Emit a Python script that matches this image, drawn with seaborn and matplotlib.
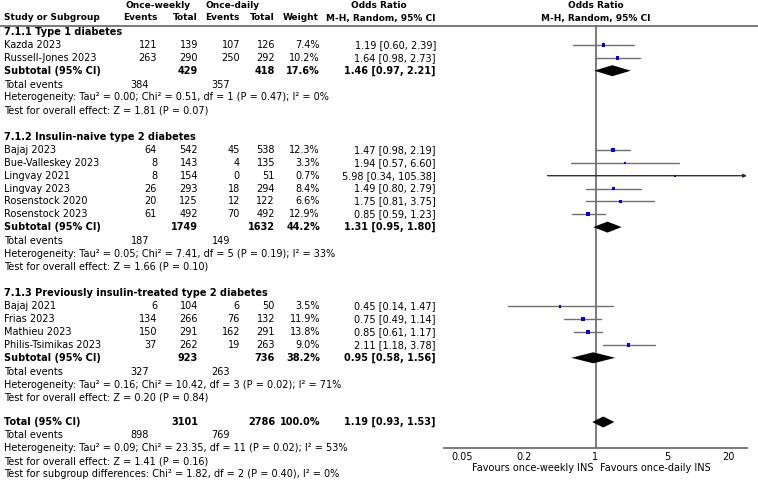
#Importing libraries
import numpy as np
import pandas as pd
import matplotlib.pyplot as plt
import seaborn as sns

#Study level data
study = ["Kazda 2023", "Russell-Jones 2023",
         "Bajaj 2023", "Bue-Valleskey 2023", "Lingvay 2021", "Lingvay 2023", "Rosenstock 2020", "Rosenstock 2023",
         "Bajaj 2021", "Frias 2023", "Mathieu 2023", "Philis-Tsimikas 2023"]
group = [0, 0, 1, 1, 1, 1, 1, 1, 2, 2, 2, 2]
weekly_events = [121, 263, 64, 8, 8, 26, 20, 61, 6, 134, 150, 37]
weekly_total = [139, 290, 542, 143, 154, 293, 125, 492, 104, 266, 291, 262]
daily_events = [107, 250, 45, 4, 0, 18, 12, 70, 6, 76, 162, 19]
daily_total = [126, 292, 538, 135, 51, 294, 122, 492, 50, 132, 291, 263]
weight = [7.4, 10.2, 12.3, 3.3, 0.7, 8.4, 6.6, 12.9, 3.5, 11.9, 13.8, 9.0]
or_est = [1.19, 1.64, 1.47, 1.94, 5.98, 1.49, 1.75, 0.85, 0.45, 0.75, 0.85, 2.11]
or_lo = [0.60, 0.98, 0.98, 0.57, 0.34, 0.80, 0.81, 0.59, 0.14, 0.49, 0.61, 1.18]
or_hi = [2.39, 2.73, 2.19, 6.60, 105.38, 2.79, 3.75, 1.23, 1.47, 1.14, 1.17, 3.78]

#Subgroup data
group_names = ["7.1.1 Type 1 diabetes", "7.1.2 Insulin-naive type 2 diabetes",
               "7.1.3 Previously insulin-treated type 2 diabetes"]
sub_weekly_total = [429, 1749, 923]
sub_daily_total = [418, 1632, 736]
sub_weekly_events = [384, 187, 327]
sub_daily_events = [357, 149, 263]
sub_weight = [17.6, 44.2, 38.2]
sub_est = [1.46, 1.31, 0.95]
sub_lo = [0.97, 0.95, 0.58]
sub_hi = [2.21, 1.80, 1.56]
sub_tau2 = ["0.00", "0.05", "0.16"]
sub_chi2 = ["0.51", "7.41", "10.42"]
sub_df = [1, 5, 3]
sub_p = ["0.47", "0.19", "0.02"]
sub_i2 = [0, 33, 71]
sub_z = ["1.81", "1.66", "0.20"]
sub_pz = ["0.07", "0.10", "0.84"]

#Overall data
total_weekly = 3101
total_daily = 2786
total_weekly_events = 898
total_daily_events = 769
total_est, total_lo, total_hi = 1.19, 0.93, 1.53
total_tau2, total_chi2, total_df, total_p, total_i2 = "0.09", "23.35", 11, "0.02", 53
total_z, total_pz = "1.41", "0.16"
subgroup_chi2, subgroup_df, subgroup_p, subgroup_i2 = "1.82", 2, "0.40", 0

ticks = [0.05, 0.2, 1, 5, 20]
tick_labels = ["0.05", "0.2", "1", "5", "20"]

sns.set_style("white")
plt.rcParams['font.family'] = ['DejaVu Sans']
plt.rcParams['text.color'] = 'black'
plt.rcParams['xtick.color'] = 'black'
FS = 7.0
HFS = 6.5
LINE = "#707070"

fig = plt.figure(figsize=(7.58, 4.83), dpi=100)
tx = fig.add_axes([0, 0, 1, 1])
tx.set_xlim(0, 758)
tx.set_ylim(483, 0)
tx.axis("off")

#Forest axes, y in pixel units so rows line up with text
ax = fig.add_axes([444 / 758, (483 - 448) / 483, (747 - 444) / 758, (448 - 25) / 483])
ax.patch.set_alpha(0)
ax.set_xscale("log")
xmin, xmax = 10 ** -1.48, 10 ** 1.48
ax.set_xlim(xmin, xmax)
ax.set_ylim(448, 25)

def put(x, y, s, ha="right", bold=False, size=FS):
    tx.text(x, y, s, ha=ha, va="center", fontsize=size, color="black",
            fontweight="bold" if bold else "normal")

#Header
put(125, 6, "Once-weekly", ha="left", bold=True, size=HFS)
put(206, 6, "Once-daily", ha="left", bold=True, size=HFS)
put(379, 6, "Odds Ratio", ha="center", bold=True, size=HFS)
put(596, 6, "Odds Ratio", ha="center", bold=True, size=HFS)
put(4, 18, "Study or Subgroup", ha="left", bold=True, size=HFS)
put(157, 18, "Events", bold=True, size=HFS)
put(198, 18, "Total", bold=True, size=HFS)
put(240, 18, "Events", bold=True, size=HFS)
put(275, 18, "Total", bold=True, size=HFS)
put(319, 18, "Weight", bold=True, size=HFS)
put(381, 18, "M-H, Random, 95% CI", ha="center", bold=True, size=HFS)
put(596, 18, "M-H, Random, 95% CI", ha="center", bold=True, size=HFS)
tx.plot([0, 758], [25.5, 25.5], color=LINE, lw=1.3)

def diamond(y, est, lo, hi):
    ax.fill([lo, est, hi, est], [y, y - 5.5, y, y + 5.5], color="black", lw=0, zorder=4)

rows = []
y = 32
for g in range(3):
    put(4, y, group_names[g], ha="left", bold=True)
    y += 13
    for i in range(len(study)):
        if group[i] != g:
            continue
        put(4, y, study[i], ha="left")
        put(157, y, str(weekly_events[i]))
        put(198, y, str(weekly_total[i]))
        put(240, y, str(daily_events[i]))
        put(275, y, str(daily_total[i]))
        put(320, y, "%.1f%%" % weight[i])
        put(436, y, "%.2f [%.2f, %.2f]" % (or_est[i], or_lo[i], or_hi[i]))
        rows.append(y)
        y += 12.85
    put(4, y, "Subtotal (95% CI)", ha="left", bold=True)
    put(198, y, str(sub_weekly_total[g]), bold=True)
    put(275, y, str(sub_daily_total[g]), bold=True)
    put(320, y, "%.1f%%" % sub_weight[g], bold=True)
    put(436, y, "%.2f [%.2f, %.2f]" % (sub_est[g], sub_lo[g], sub_hi[g]), bold=True)
    diamond(y, sub_est[g], sub_lo[g], sub_hi[g])
    y += 13.8
    put(4, y, "Total events", ha="left")
    put(149, y, str(sub_weekly_events[g]))
    put(230, y, str(sub_daily_events[g]))
    y += 13
    put(4, y, "Heterogeneity: Tau² = %s; Chi² = %s, df = %d (P = %s); I² = %d%%"
        % (sub_tau2[g], sub_chi2[g], sub_df[g], sub_p[g], sub_i2[g]), ha="left")
    y += 13
    put(4, y, "Test for overall effect: Z = %s (P = %s)" % (sub_z[g], sub_pz[g]), ha="left")
    y += 26.5

#Overall
y = 422
put(4, y, "Total (95% CI)", ha="left", bold=True)
put(198, y, str(total_weekly), bold=True)
put(275, y, str(total_daily), bold=True)
put(320, y, "100.0%", bold=True)
put(436, y, "%.2f [%.2f, %.2f]" % (total_est, total_lo, total_hi), bold=True)
diamond(y, total_est, total_lo, total_hi)
put(4, 435, "Total events", ha="left")
put(149, 435, str(total_weekly_events))
put(230, 435, str(total_daily_events))
put(4, 448, "Heterogeneity: Tau² = %s; Chi² = %s, df = %d (P = %s); I² = %d%%"
    % (total_tau2, total_chi2, total_df, total_p, total_i2), ha="left")
put(4, 461, "Test for overall effect: Z = %s (P = %s)" % (total_z, total_pz), ha="left")
put(4, 474, "Test for subgroup differences: Chi² = %s, df = %d (P = %s), I² = %d%%"
    % (subgroup_chi2, subgroup_df, subgroup_p, subgroup_i2), ha="left")

#Study CIs and squares
df = pd.DataFrame({"y": rows, "est": or_est, "lo": or_lo, "hi": or_hi, "weight": weight})
for _, r in df.iterrows():
    if r.hi > xmax:
        ax.annotate("", xy=(xmax, r.y), xytext=(r.lo, r.y),
                    arrowprops=dict(arrowstyle="-|>", color="#333333", lw=1, mutation_scale=5,
                                    shrinkA=0, shrinkB=0), annotation_clip=False)
    else:
        ax.plot([r.lo, r.hi], [r.y, r.y], color=LINE, lw=1, zorder=2)
sns.scatterplot(data=df, x="est", y="y", size="weight", sizes=(1.5, 9), size_norm=(0, 14),
                marker="s", color="#0000ee", edgecolor="none", legend=False, ax=ax, zorder=3)

ax.axvline(1, color=LINE, lw=1.3, zorder=1)
for s in ["left", "right", "top"]:
    ax.spines[s].set_visible(False)
ax.spines["bottom"].set_color(LINE)
ax.spines["bottom"].set_linewidth(1.3)
ax.set_xticks(ticks, tick_labels)
ax.minorticks_off()
ax.tick_params(axis="x", direction="in", length=3, color=LINE, labelcolor="black", labelsize=FS, pad=3)
ax.set_yticks([])
ax.set_xlabel("")
ax.set_ylabel("")

put(594, 468, "Favours once-weekly INS")
put(600, 468, "Favours once-daily INS", ha="left")

fig.savefig("out.png", dpi=100)
